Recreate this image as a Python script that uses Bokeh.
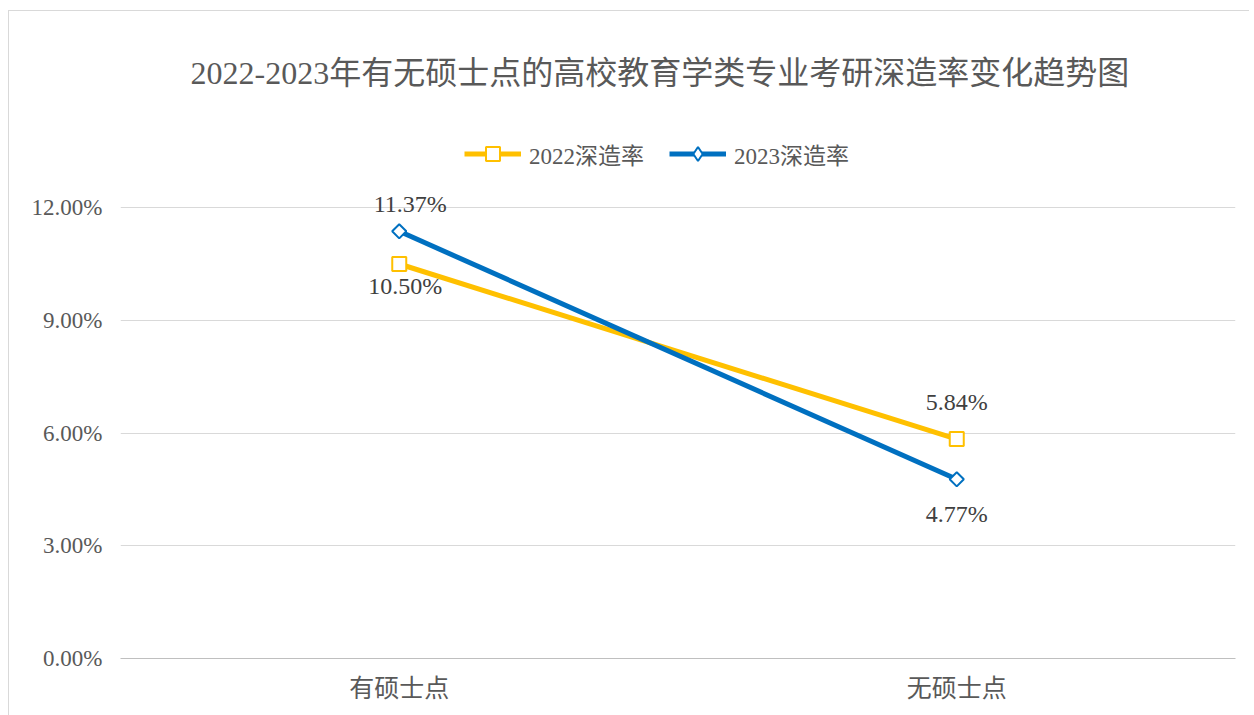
import math
from bokeh.plotting import figure
from bokeh.models import ColumnDataSource, FactorRange, Range1d, PrintfTickFormatter, LabelSet, Legend, LegendItem
from bokeh.embed import file_html
from bokeh.resources import INLINE

title_text = "2022-2023年有无硕士点的高校教育学类专业考研深造率变化趋势图"
categories = ["有硕士点", "无硕士点"]
series_names = ["2022深造率", "2023深造率"]
rate_2022 = [10.50, 5.84]
rate_2023 = [11.37, 4.77]
y_ticks = [0, 3, 6, 9, 12]

FONT = "'Liberation Serif', 'Noto Sans CJK SC'"
YELLOW = "#FFC000"
BLUE = "#0070C0"
GRAY_TEXT = "#595959"

p = figure(frame_width=1115, frame_height=526, output_backend="svg", toolbar_location=None,
           x_range=FactorRange(*categories, range_padding=0),
           y_range=Range1d(0, 14))
p.styles = {"border-left": "1px solid #d9d9d9", "border-top": "1px solid #d9d9d9",
            "margin-left": "8px", "margin-top": "10px"}

p.min_border_left = 111
p.min_border_right = 14
p.min_border_bottom = 57
p.min_border_top = 121

p.title.text = title_text
p.title.align = "left"
p.title.vertical_align = "middle"
p.title.text_font = FONT
p.title.text_font_size = "32px"
p.title.text_font_style = "normal"
p.title.text_color = GRAY_TEXT
p.title.standoff = 82
p.title.offset = 70

src22 = ColumnDataSource(dict(x=categories, y=rate_2022,
                              t=["%.2f%%" % v for v in rate_2022],
                              dx=[6, 0], dy=[-22, 37]))
src23 = ColumnDataSource(dict(x=categories, y=rate_2023,
                              t=["%.2f%%" % v for v in rate_2023],
                              dx=[11, 0], dy=[27, -35]))

l22 = p.line("x", "y", source=src22, line_color=YELLOW, line_width=5)
m22 = p.scatter("x", "y", source=src22, marker="square", size=14, fill_color="white",
                line_color=YELLOW, line_width=2)
l23 = p.line("x", "y", source=src23, line_color=BLUE, line_width=5)
# diamond used for the legend swatch (legend glyphs are never rotated); tiny and hidden under m23
m23_leg = p.scatter("x", "y", source=src23, marker="diamond", size=1,
                    fill_color="white", line_color=BLUE, line_width=2)
m23 = p.scatter("x", "y", source=src23, marker="square", angle=math.pi / 4, size=10,
                fill_color="white", line_color=BLUE, line_width=2)

for s in (src22, src23):
    p.add_layout(LabelSet(x="x", y="y", text="t", source=s, x_offset="dx", y_offset="dy",
                          text_align="center", text_baseline="middle",
                          text_font=FONT, text_font_size="24px", text_color="#404040"))

legend = Legend(items=[LegendItem(label=series_names[0], renderers=[l22, m22]),
                       LegendItem(label=series_names[1], renderers=[l23, m23_leg])],
                orientation="horizontal", location=(344, 487),
                label_text_font=FONT, label_text_font_size="23px",
                label_text_color=GRAY_TEXT, glyph_width=57, glyph_height=35,
                spacing=25, label_standoff=8, border_line_color=None,
                background_fill_alpha=0, margin=0, padding=5)
p.add_layout(legend, "center")

p.yaxis.ticker = y_ticks
p.yaxis.formatter = PrintfTickFormatter(format="%.2f%%")
p.yaxis.axis_line_color = None
p.yaxis.major_tick_line_color = None
p.yaxis.minor_tick_line_color = None
p.yaxis.major_label_text_font = FONT
p.yaxis.major_label_text_font_size = "23px"
p.yaxis.major_label_text_color = GRAY_TEXT
p.yaxis.major_label_standoff = 12

p.xaxis.axis_line_color = "#bfbfbf"
p.xaxis.major_tick_line_color = None
p.xaxis.minor_tick_line_color = None
p.xaxis.major_label_text_font = FONT
p.xaxis.major_label_text_font_size = "25px"
p.xaxis.major_label_text_color = GRAY_TEXT
p.xaxis.major_label_standoff = 10

p.xgrid.grid_line_color = None
p.ygrid.grid_line_color = "#d9d9d9"
p.ygrid.grid_line_width = 1
p.ygrid.ticker = y_ticks
p.outline_line_color = None

open("out.html", "w").write(file_html(p, INLINE))
